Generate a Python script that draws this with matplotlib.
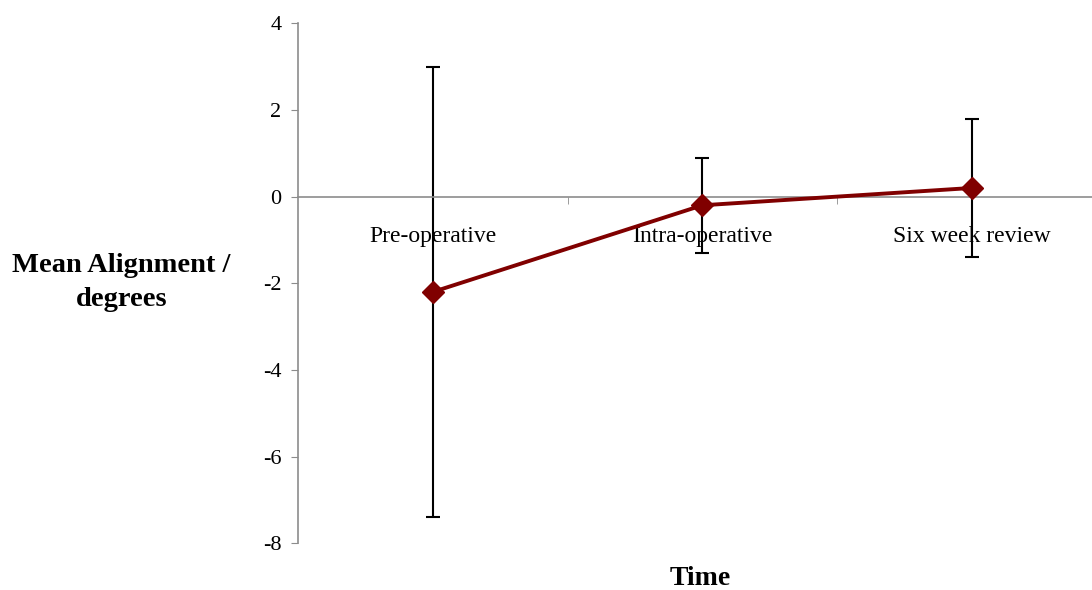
import numpy as np
import matplotlib.pyplot as plt

categories = ['Pre-operative', 'Intra-operative', 'Six week review']
mean_alignment = [-2.2, -0.2, 0.2]
error = [5.2, 1.1, 1.6]

plt.rcParams['font.family'] = ['Liberation Serif', 'DejaVu Serif']
plt.rcParams['axes.unicode_minus'] = False

fig = plt.figure(figsize=(10.92, 5.90), dpi=100)
ax = fig.add_axes([0.2729, 0.0792, 0.7271, 0.8813])

x = np.arange(len(categories))
ax.errorbar(x, mean_alignment, yerr=error, fmt='none', ecolor='black',
            elinewidth=1.5, capsize=4.8, capthick=1.5, zorder=2)
ax.plot(x, mean_alignment, color='#800000', lw=2.8, marker='D',
        markersize=11, markerfacecolor='#800000', markeredgecolor='#800000', zorder=3)

ax.set_ylim(-8, 4)
ax.set_yticks(np.arange(-8, 5, 2))
ax.set_xlim(-0.5, 2.446)

ax.spines['top'].set_visible(False)
ax.spines['right'].set_visible(False)
ax.spines['bottom'].set_position(('data', 0))
ax.spines['left'].set_color('#8c8c8c')
ax.spines['bottom'].set_color('#8c8c8c')
ax.spines['left'].set_linewidth(1.2)
ax.spines['bottom'].set_linewidth(1.2)

ax.set_xticks(x)
ax.set_xticklabels(categories, fontsize=17)
ax.set_xticks([0.5, 1.5], minor=True)
ax.tick_params(axis='x', which='major', length=0, pad=21)
ax.tick_params(axis='x', which='minor', length=5, color='#8c8c8c', direction='out')
ax.tick_params(axis='y', length=5, color='#8c8c8c', labelsize=16, pad=7)

fig.text(0.111, 0.521, 'Mean Alignment /\ndegrees', fontsize=20.5, fontweight='bold',
         ha='center', va='center', linespacing=1.5)
fig.text(0.641, 0.02, 'Time', fontsize=20, fontweight='bold', ha='center', va='center')

fig.savefig('out.png', dpi=100)
